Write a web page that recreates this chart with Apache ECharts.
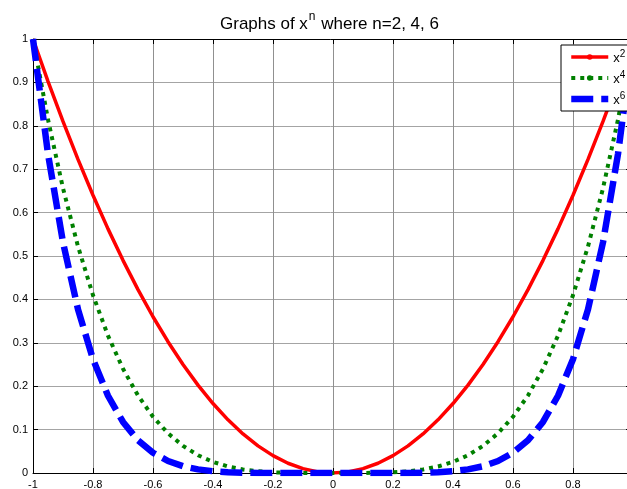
<!DOCTYPE html>
<html>
<head>
<meta charset="utf-8">
<script src="https://cdn.jsdelivr.net/npm/echarts@6/dist/echarts.min.js"></script>
<style>html,body{margin:0;padding:0;background:#fff}#c{width:627px;height:489px}</style>
</head>
<body>
<div id="c"></div>
<script>
// x sample points
var xs = [-1, -0.95, -0.9, -0.85, -0.8, -0.75, -0.7, -0.65, -0.6, -0.55, -0.5, -0.45, -0.4, -0.35, -0.3, -0.25, -0.2, -0.15, -0.1, -0.05, 0,
          0.05, 0.1, 0.15, 0.2, 0.25, 0.3, 0.35, 0.4, 0.45, 0.5, 0.55, 0.6, 0.65, 0.7, 0.75, 0.8, 0.85, 0.9, 0.95, 1];
// x^2
var y2 = [1, 0.9025, 0.81, 0.7225, 0.64, 0.5625, 0.49, 0.4225, 0.36, 0.3025, 0.25, 0.2025, 0.16, 0.1225, 0.09, 0.0625, 0.04, 0.0225, 0.01, 0.0025, 0,
          0.0025, 0.01, 0.0225, 0.04, 0.0625, 0.09, 0.1225, 0.16, 0.2025, 0.25, 0.3025, 0.36, 0.4225, 0.49, 0.5625, 0.64, 0.7225, 0.81, 0.9025, 1];
// x^4
var y4 = [1, 0.8145, 0.6561, 0.5220, 0.4096, 0.3164, 0.2401, 0.1785, 0.1296, 0.0915, 0.0625, 0.0410, 0.0256, 0.0150, 0.0081, 0.0039, 0.0016, 0.0005, 0.0001, 0.0000, 0,
          0.0000, 0.0001, 0.0005, 0.0016, 0.0039, 0.0081, 0.0150, 0.0256, 0.0410, 0.0625, 0.0915, 0.1296, 0.1785, 0.2401, 0.3164, 0.4096, 0.5220, 0.6561, 0.8145, 1];
// x^6
var y6 = [1, 0.7351, 0.5314, 0.3771, 0.2621, 0.1780, 0.1176, 0.0754, 0.0467, 0.0277, 0.0156, 0.0083, 0.0041, 0.0018, 0.0007, 0.0002, 0.0001, 0, 0, 0, 0,
          0, 0, 0, 0.0001, 0.0002, 0.0007, 0.0018, 0.0041, 0.0083, 0.0156, 0.0277, 0.0467, 0.0754, 0.1176, 0.1780, 0.2621, 0.3771, 0.5314, 0.7351, 1];
var seriesNames = ['x2', 'x4', 'x6'];
var supText = {x2: '2', x4: '4', x6: '6'};

function pairs(ys) { return xs.map(function (x, i) { return [x, ys[i]]; }); }

var FONT = '"Liberation Sans", Arial, sans-serif';
var chart = echarts.init(document.getElementById('c'), null, {renderer: 'canvas'});
var axLine = {show: true, onZero: false, lineStyle: {color: '#000', width: 1}};
chart.setOption({
  backgroundColor: '#fff',
  animation: false,
  title: {
    text: '{a|Graphs of x}{sup|n}{a| where n=2, 4, 6}',
    left: 220, top: 11, padding: 0,
    textStyle: {
      fontWeight: 'normal',
      rich: {
        a: {fontFamily: FONT, fontSize: 17, fontWeight: 'normal', color: '#000', lineHeight: 22, verticalAlign: 'bottom'},
        sup: {fontFamily: FONT, fontSize: 12, fontWeight: 'normal', color: '#000', lineHeight: 22, verticalAlign: 'top', padding: [0, 1, 0, 1]}
      }
    }
  },
  legend: {
    orient: 'vertical',
    left: 561, top: 45, z: 20,
    padding: [4, 4, 4, 7],
    itemWidth: 37, itemHeight: 7,
    itemGap: 5,
    backgroundColor: '#fff',
    borderColor: '#000', borderWidth: 1, borderRadius: 0,
    data: seriesNames,
    lineStyle: {width: 'inherit'},
    formatter: function (name) { return '{x|x}{s|' + supText[name] + '}'; },
    textStyle: {
      rich: {
        x: {fontFamily: FONT, fontSize: 13, color: '#000', lineHeight: 16, verticalAlign: 'bottom'},
        s: {fontFamily: FONT, fontSize: 10, color: '#000', lineHeight: 16, verticalAlign: 'top'}
      }
    }
  },
  grid: {left: 33, width: 600, top: 39, height: 434, containLabel: false, outerBoundsMode: 'none'},
  xAxis: [{
    type: 'value', min: -1, max: 1, interval: 0.2, position: 'bottom',
    axisLine: axLine, axisTick: {show: true, inside: true, length: 5, lineStyle: {color: '#000'}},
    axisLabel: {color: '#000', fontFamily: FONT, fontSize: 11, margin: 6},
    splitLine: {show: true, lineStyle: {color: '#909090', width: 1}}
  }, {
    type: 'value', min: -1, max: 1, interval: 0.2, position: 'top',
    axisLine: axLine, axisTick: {show: true, inside: true, length: 5, lineStyle: {color: '#000'}},
    axisLabel: {show: false}, splitLine: {show: false}
  }],
  yAxis: [{
    type: 'value', min: 0, max: 1, interval: 0.1, position: 'left',
    axisLine: axLine, axisTick: {show: true, inside: true, length: 5, lineStyle: {color: '#000'}},
    axisLabel: {color: '#000', fontFamily: FONT, fontSize: 11, margin: 5},
    splitLine: {show: true, lineStyle: {color: '#a4a4a4', width: 1}}
  }, {
    type: 'value', min: 0, max: 1, interval: 0.1, position: 'right',
    axisLine: axLine, axisTick: {show: true, inside: true, length: 7, lineStyle: {color: '#000'}},
    axisLabel: {show: false}, splitLine: {show: false}
  }],
  series: [{
    name: 'x2', type: 'line', data: pairs(y2), xAxisIndex: 0, yAxisIndex: 0,
    symbol: 'circle', symbolSize: 5, showSymbol: false, clip: true,
    color: '#ff0000',
    lineStyle: {color: '#ff0000', width: 3.5, type: 'solid'}, z: 3
  }, {
    name: 'x4', type: 'line', data: pairs(y4),
    symbol: 'circle', symbolSize: 5, showSymbol: false, clip: true,
    color: '#008000',
    lineStyle: {color: '#008000', width: 4, type: [4, 5], cap: 'butt'}, z: 4
  }, {
    name: 'x6', type: 'line', data: pairs(y6),
    symbol: 'circle', symbolSize: 5, showSymbol: false, clip: true,
    color: '#0000ff',
    lineStyle: {color: '#0000ff', width: 6.5, type: [22, 8], cap: 'butt'}, z: 5
  }]
});
</script>
</body>
</html>
